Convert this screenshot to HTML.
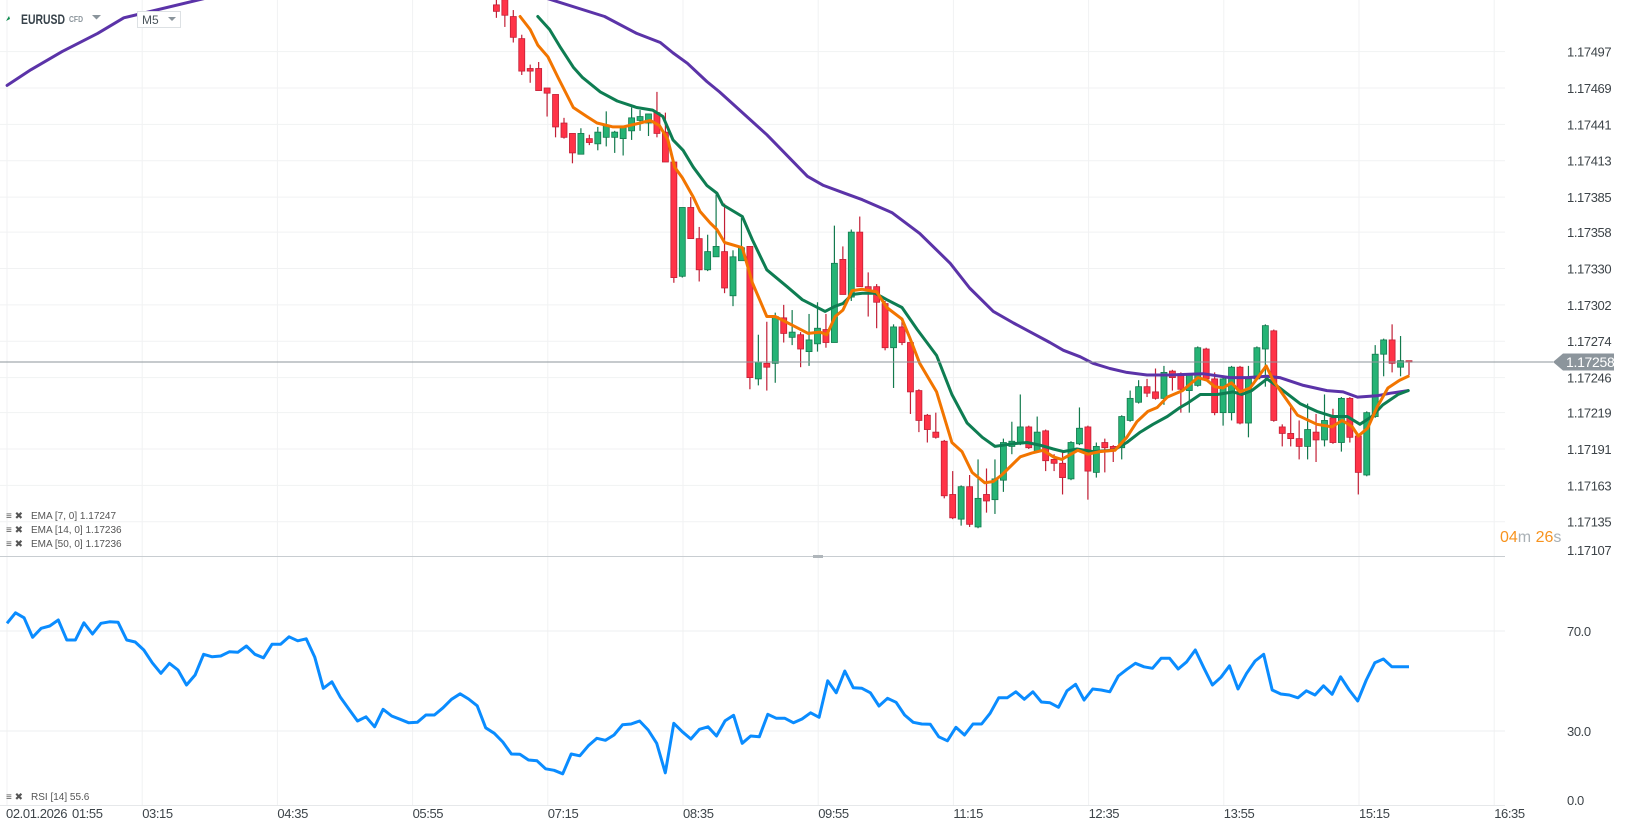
<!DOCTYPE html>
<html><head><meta charset="utf-8"><title>EURUSD M5</title>
<style>
html,body{margin:0;padding:0;background:#fff;}
svg{display:block;font-family:"Liberation Sans",sans-serif;}
.ax{font-size:13px;fill:#3d4449;letter-spacing:-0.4px;}
.lg{font-size:10px;fill:#555;}
</style></head>
<body>
<svg id="chart" width="1626" height="831" viewBox="0 0 1626 831" xmlns="http://www.w3.org/2000/svg">
<defs>
<clipPath id="mainClip"><rect x="0" y="0" width="1510" height="556"/></clipPath>
<clipPath id="rsiClip"><rect x="0" y="558" width="1510" height="246"/></clipPath>
</defs>
<g id="grid"></g>
<g id="mainPane" clip-path="url(#mainClip)"></g>
<g id="rsiPane" clip-path="url(#rsiClip)"></g>
<g id="axes"></g>

<line x1="0" y1="556.5" x2="1505" y2="556.5" stroke="#c8cdd1" stroke-width="1"/>
<rect x="813" y="555" width="10" height="3" fill="#b0b6bb"/>
<line x1="0" y1="805.5" x2="1505" y2="805.5" stroke="#e6e8ea"/>

<g>
  <path d="M6 21 L9 16 L10 19 Z" fill="#0b8a4c"/>
  <text x="21" y="24" font-size="14" font-weight="bold" fill="#37424a" textLength="44" lengthAdjust="spacingAndGlyphs">EURUSD</text>
  <text x="69" y="22" font-size="8" font-weight="bold" fill="#8a949b" textLength="14" lengthAdjust="spacingAndGlyphs">CFD</text>
  <path d="M92 15 L101 15 L96.5 19.5 Z" fill="#8a949b"/>
  <rect x="137.5" y="11.5" width="43" height="16" fill="#fff" stroke="#dde1e4"/>
  <text x="142" y="24" font-size="12" fill="#4a545b">M5</text>
  <path d="M168 17 L176 17 L172 21 Z" fill="#8a949b"/>
</g>

<g>
  <g><text class="lg" x="6" y="519">≡ ✖</text><text class="lg" x="31" y="519">EMA [7, 0] 1.17247</text></g>
  <g><text class="lg" x="6" y="533">≡ ✖</text><text class="lg" x="31" y="533">EMA [14, 0] 1.17236</text></g>
  <g><text class="lg" x="6" y="547">≡ ✖</text><text class="lg" x="31" y="547">EMA [50, 0] 1.17236</text></g>
  <g><text class="lg" x="6" y="800">≡ ✖</text><text class="lg" x="31" y="800">RSI [14] 55.6</text></g>
</g>

<g>
  <text x="1500" y="542" font-size="16"><tspan fill="#f7931e">04</tspan><tspan fill="#a9b0b5">m </tspan><tspan fill="#f7931e">26</tspan><tspan fill="#a9b0b5">s</tspan></text>
</g>

<script>
// ---- price data (candle index 0..108) ----
const opens=[1.17533,1.17537,1.17524,1.17507,1.17484,1.17484,1.17469,1.17464,1.17442,1.17434,1.17418,1.17430,1.17426,1.17431,1.17431,1.17430,1.17436,1.17444,1.17442,1.17450,1.17435,1.17412,1.17324,1.17377,1.17353,1.17329,1.17339,1.17343,1.17309,1.17336,1.17347,1.17245,1.17257,1.17257,1.17292,1.17277,1.17279,1.17266,1.17272,1.17283,1.17273,1.17337,1.17308,1.17358,1.17316,1.17316,1.17303,1.17269,1.17285,1.17273,1.17236,1.17217,1.17204,1.17197,1.17156,1.17137,1.17162,1.17131,1.17156,1.17152,1.17167,1.17193,1.17195,1.17208,1.17189,1.17205,1.17183,1.17180,1.17168,1.17195,1.17208,1.17173,1.17196,1.17193,1.17192,1.17213,1.17227,1.17239,1.17235,1.17230,1.17251,1.17249,1.17236,1.17240,1.17268,1.17245,1.17219,1.17219,1.17254,1.17211,1.17245,1.17268,1.17282,1.17208,1.17203,1.17199,1.17193,1.17204,1.17198,1.17215,1.17196,1.17230,1.17201,1.17171,1.17216,1.17264,1.17275,1.17254,1.17259];
const highs=[1.17537,1.17541,1.17529,1.17510,1.17487,1.17489,1.17469,1.17464,1.17446,1.17434,1.17438,1.17433,1.17439,1.17451,1.17436,1.17439,1.17454,1.17452,1.17449,1.17466,1.17450,1.17412,1.17377,1.17385,1.17362,1.17356,1.17387,1.17380,1.17344,1.17369,1.17347,1.17279,1.17289,1.17296,1.17302,1.17298,1.17281,1.17295,1.17304,1.17295,1.17363,1.17347,1.17360,1.17370,1.17327,1.17318,1.17305,1.17287,1.17289,1.17274,1.17237,1.17218,1.17219,1.17198,1.17174,1.17163,1.17171,1.17183,1.17176,1.17183,1.17199,1.17212,1.17233,1.17209,1.17216,1.17206,1.17187,1.17189,1.17197,1.17223,1.17209,1.17196,1.17199,1.17194,1.17217,1.17236,1.17244,1.17245,1.17253,1.17255,1.17252,1.17250,1.17249,1.17270,1.17269,1.17250,1.17246,1.17255,1.17255,1.17255,1.17270,1.17287,1.17283,1.17210,1.17223,1.17213,1.17226,1.17218,1.17233,1.17222,1.17231,1.17231,1.17202,1.17220,1.17271,1.17276,1.17287,1.17278,1.17259];
const lows=[1.17523,1.17516,1.17504,1.17479,1.17473,1.17467,1.17447,1.17431,1.17430,1.17411,1.17418,1.17425,1.17421,1.17424,1.17419,1.17417,1.17429,1.17436,1.17432,1.17431,1.17412,1.17319,1.17323,1.17353,1.17320,1.17328,1.17339,1.17311,1.17301,1.17336,1.17237,1.17240,1.17236,1.17242,1.17273,1.17271,1.17254,1.17255,1.17266,1.17269,1.17273,1.17310,1.17305,1.17316,1.17293,1.17284,1.17267,1.17238,1.17271,1.17218,1.17204,1.17196,1.17199,1.17153,1.17137,1.17132,1.17131,1.17130,1.17142,1.17141,1.17158,1.17187,1.17194,1.17191,1.17188,1.17174,1.17174,1.17156,1.17167,1.17194,1.17152,1.17169,1.17173,1.17181,1.17183,1.17212,1.17226,1.17231,1.17229,1.17225,1.17236,1.17219,1.17219,1.17239,1.17244,1.17217,1.17209,1.17213,1.17210,1.17200,1.17244,1.17239,1.17212,1.17193,1.17193,1.17183,1.17183,1.17181,1.17193,1.17195,1.17189,1.17196,1.17156,1.17170,1.17215,1.17247,1.17250,1.17247,1.17248];
const closes=[1.17528,1.17525,1.17508,1.17482,1.17482,1.17467,1.17465,1.17439,1.17431,1.17419,1.17434,1.17427,1.17435,1.17440,1.17435,1.17439,1.17446,1.17447,1.17449,1.17434,1.17412,1.17323,1.17377,1.17353,1.17329,1.17343,1.17347,1.17315,1.17339,1.17346,1.17246,1.17258,1.17254,1.17293,1.17280,1.17281,1.17268,1.17275,1.17284,1.17273,1.17334,1.17310,1.17358,1.17316,1.17313,1.17304,1.17269,1.17285,1.17273,1.17235,1.17213,1.17206,1.17200,1.17155,1.17138,1.17162,1.17133,1.17153,1.17151,1.17168,1.17196,1.17197,1.17208,1.17192,1.17204,1.17182,1.17180,1.17169,1.17196,1.17207,1.17174,1.17193,1.17192,1.17191,1.17216,1.17230,1.17239,1.17234,1.17230,1.17250,1.17246,1.17237,1.17248,1.17269,1.17245,1.17219,1.17245,1.17254,1.17211,1.17245,1.17269,1.17286,1.17213,1.17203,1.17199,1.17193,1.17206,1.17198,1.17213,1.17196,1.17230,1.17200,1.17173,1.17219,1.17264,1.17275,1.17257,1.17259,1.17258];

// ---- EMA readings (candle index, price) ----
const ema7Bars=[2.8,4.0,4.9,6.1,7.3,9.1,10.7,11.9,13.8,15.0,17.0,18.2,19.3,20.3,21.1,22.0,23.3,24.1,25.3,26.1,27.0,29.1,30.3,32.0,33.0,35.1,36.9,38.3,39.1,40.1,41.0,42.1,43.3,45.0,46.2,48.0,48.9,50.1,52.1,53.9,55.1,56.3,57.8,58.8,59.8,62.0,63.4,64.7,65.9,66.9,68.8,70.0,71.4,73.2,74.6,75.8,77.1,78.2,79.4,81.2,83.0,84.1,85.0,86.0,87.0,88.0,89.2,90.1,91.1,91.9,93.3,94.8,97.1,98.9,100.1,101.3,102.0,103.1,104.2,105.5,106.9,107.9];
const ema7Vals=[1.17524,1.17514,1.17502,1.17493,1.17477,1.17454,1.17447,1.17442,1.17439,1.17439,1.17442,1.17444,1.17440,1.17429,1.17408,1.17400,1.17385,1.17374,1.17365,1.17360,1.17350,1.17346,1.17319,1.17293,1.17293,1.17286,1.17280,1.17281,1.17279,1.17293,1.17298,1.17313,1.17314,1.17312,1.17300,1.17291,1.17277,1.17257,1.17235,1.17196,1.17189,1.17173,1.17165,1.17166,1.17171,1.17185,1.17188,1.17190,1.17185,1.17183,1.17190,1.17187,1.17189,1.17190,1.17200,1.17212,1.17220,1.17223,1.17231,1.17236,1.17246,1.17244,1.17239,1.17238,1.17242,1.17235,1.17238,1.17246,1.17255,1.17244,1.17231,1.17217,1.17210,1.17208,1.17213,1.17208,1.17201,1.17207,1.17223,1.17238,1.17244,1.17247];
const ema14Bars=[4.9,6.3,7.5,9.1,10.2,12.3,14.3,16.6,18.5,19.7,20.9,22.1,23.3,24.9,26.1,26.8,29.1,30.3,32.0,34.4,36.2,38.9,40.1,41.0,42.1,43.3,44.8,46.2,48.0,49.8,52.1,53.9,55.7,57.5,59.0,61.1,62.8,64.3,65.9,67.1,68.7,70.6,73.0,74.6,76.2,77.7,79.4,80.9,81.7,83.3,85.3,87.2,88.2,89.4,91.2,92.7,95.1,97.1,99.0,100.7,102.2,103.6,104.9,106.7,107.9];
const ema14Vals=[1.17524,1.17514,1.17501,1.17485,1.17477,1.17466,1.17459,1.17454,1.17452,1.17447,1.17429,1.17421,1.17408,1.17394,1.17388,1.17379,1.17370,1.17352,1.17329,1.17316,1.17306,1.17297,1.17301,1.17303,1.17310,1.17311,1.17311,1.17306,1.17300,1.17283,1.17263,1.17233,1.17211,1.17200,1.17193,1.17195,1.17196,1.17194,1.17191,1.17189,1.17191,1.17189,1.17190,1.17196,1.17204,1.17210,1.17216,1.17223,1.17226,1.17233,1.17233,1.17235,1.17233,1.17236,1.17245,1.17238,1.17226,1.17220,1.17216,1.17216,1.17210,1.17216,1.17225,1.17233,1.17236];
const ema50Bars=[-57.9,-55.1,-51.4,-47.2,-44.1,-30,-10,5,12.8,16.6,19.4,20.9,22.6,24.9,26.4,32.0,36.8,38.7,41.2,43.3,46.8,50.1,53.7,56.0,58.8,61.2,63.5,65.5,67.1,69.1,70.6,72.6,74.6,77.0,79.7,83.6,86.8,88.8,91.2,92.7,95.5,98.3,100.2,101.9,104.2,105.8,107.9];
const ema50Vals=[1.17471,1.17483,1.17497,1.17511,1.17523,1.17545,1.17555,1.17540,1.17524,1.17511,1.17504,1.17496,1.17488,1.17474,1.17466,1.17433,1.17401,1.17394,1.17388,1.17383,1.17373,1.17357,1.17334,1.17315,1.17297,1.17288,1.17280,1.17273,1.17267,1.17262,1.17257,1.17253,1.17250,1.17248,1.17248,1.17249,1.17246,1.17246,1.17247,1.17246,1.17240,1.17236,1.17235,1.17231,1.17232,1.17234,1.17236];

// ---- RSI (14) values, one per bar, left to right ----
const rsiVals=[73.1,77.3,75.3,67.5,71.1,72.0,74.4,66.4,66.4,73.3,68.8,73.1,73.7,73.5,66.4,65.6,62.4,57.3,53.1,57.1,54.4,48.4,52.4,60.7,59.7,60.0,61.7,61.5,64.0,60.7,59.3,64.7,64.7,67.7,66.1,66.9,59.5,47.1,49.7,43.5,38.7,34.0,35.7,31.7,38.7,36.0,34.7,33.3,33.5,36.4,36.4,39.3,42.7,44.9,42.8,40.1,31.3,29.1,25.6,20.8,20.7,18.4,18.1,14.9,14.3,12.9,20.8,20.1,24.1,27.1,26.3,28.4,32.5,32.8,34.0,30.4,25.1,13.3,33.1,29.7,26.8,30.7,
31.7,28.0,34.1,36.3,25.1,28.0,27.7,36.7,35.1,35.1,33.3,34.8,37.3,35.5,50.1,45.3,54.0,47.3,47.1,45.3,40.0,43.1,41.5,36.4,33.5,32.8,32.7,27.7,26.1,31.5,28.4,32.8,32.8,37.1,43.3,43.3,45.7,42.7,45.7,41.6,41.3,39.5,46.1,48.7,42.4,46.8,46.4,45.7,52.0,54.7,57.1,55.7,55.1,59.1,59.1,54.8,57.7,62.4,55.3,48.4,51.5,56.1,46.8,53.1,58.0,60.7,46.4,44.8,44.4,43.3,46.1,44.4,48.1,44.7,51.7,46.4,42.0,50.4,57.3,58.8,55.7,55.7,55.7];

// ---- axis labels ----
const priceTicks=["1.17497","1.17469","1.17441","1.17413","1.17385","1.17358","1.17330","1.17302","1.17274","1.17246","1.17219","1.17191","1.17163","1.17135","1.17107"];
const rsiTicks=[70,30,0];
const timeTicks=["01:55","03:15","04:35","05:55","07:15","08:35","09:55","11:15","12:35","13:55","15:15","16:35"];
const lastPrice=1.17258;

// ---- scales ----
const NS="http://www.w3.org/2000/svg";
const lastIdx=closes.length-1;
const BAR=8.45, LASTX=1409;
function xBar(i){return LASTX-(lastIdx-i)*BAR;}
function yP(p){return 362-(p-lastPrice)/0.0000077;}
function yR(v){return 806-v*2.5;}
function xR(j){return 7+j*(LASTX-7)/(rsiVals.length-1);}
function mk(tag,attrs,parent){const e=document.createElementNS(NS,tag);for(const k in attrs)e.setAttribute(k,attrs[k]);parent.appendChild(e);return e;}

const grid=document.getElementById('grid');
const main=document.getElementById('mainPane');
const rsiG=document.getElementById('rsiPane');
const axes=document.getElementById('axes');

// vertical grid + time labels
timeTicks.forEach((t,k)=>{
  const x=7+k*135.2;
  const l=mk('line',{x1:x,y1:0,x2:x,y2:805,stroke:'#f1f2f3','stroke-width':1},grid);
  
  
  const tx=mk('text',{x:k===0?72:x,y:818,class:'ax'},axes);
  tx.textContent=t;
  
  
});
const d0=mk('text',{x:6,y:818,class:'ax'},axes);
d0.textContent="02.01.2026";



// price grid + labels
priceTicks.forEach((t,k)=>{
  const y=yP(parseFloat(t));
  if(y<552){
    const l=mk('line',{x1:0,y1:y,x2:1505,y2:y,stroke:'#f1f2f3','stroke-width':1},grid);
    
    
  }
  const tx=mk('text',{x:1567,y:Math.min(y,550)+5,class:'ax'},axes);
  tx.textContent=t;
  
  
});
rsiTicks.forEach(v=>{
  const y=yR(v);
  if(v>0){
    const l=mk('line',{x1:0,y1:y,x2:1505,y2:y,stroke:'#eeeff0','stroke-width':1},grid);
    
    
  }
  const tx=mk('text',{x:1567,y:(v===0?yR(v)-1:y+5),class:'ax'},axes);
  tx.textContent=v.toFixed(1);
  
  
});

// current price line
const pl=mk('line',{x1:0,y1:yP(lastPrice),x2:1553,y2:yP(lastPrice),stroke:'#8d959b','stroke-width':1},main.parentNode);



// candles
for(let i=0;i<=lastIdx;i++){
  const up=closes[i]>opens[i];
  const x=xBar(i);
  const g=mk('g',{},main);
  
  
  const fill=up?'#25b375':'#ff3347', stroke=up?'#137a4e':'#c21f36';
  mk('line',{x1:x,y1:yP(highs[i]),x2:x,y2:yP(lows[i]),stroke:stroke,'stroke-width':1.2},g);
  const top=yP(Math.max(opens[i],closes[i])), bot=yP(Math.min(opens[i],closes[i]));
  mk('rect',{x:x-3,y:top,width:6,height:Math.max(1.5,bot-top),fill:fill,stroke:stroke,'stroke-width':0.8},g);
}

// EMA lines
function line(bars,vals,color,name){
  const d=bars.map((b,k)=>(k?'L':'M')+xBar(b).toFixed(1)+' '+yP(vals[k]).toFixed(1)).join(' ');
  const p=mk('path',{d:d,fill:'none',stroke:color,'stroke-width':3,'stroke-linejoin':'round','stroke-linecap':'round'},main);
  
  
}
line(ema50Bars,ema50Vals,'#5b33a8','ema-50-line');
line(ema14Bars,ema14Vals,'#0e7d52','ema-14-line');
line(ema7Bars,ema7Vals,'#f27500','ema-7-line');

// RSI line
const rd=rsiVals.map((v,j)=>(j?'L':'M')+xR(j).toFixed(1)+' '+yR(v).toFixed(1)).join(' ');
const rp=mk('path',{d:rd,fill:'none',stroke:'#0a8cff','stroke-width':3,'stroke-linejoin':'round'},rsiG);



// price tag
const ty=yP(lastPrice);
const tag=mk('g',{},axes);


mk('path',{d:`M1553 ${ty} L1563 ${ty-8.5} L1614 ${ty-8.5} L1614 ${ty+8.5} L1563 ${ty+8.5} Z`,fill:'#8c959c'},tag);
const tt=mk('text',{x:1566,y:ty+5,'font-size':14,fill:'#fff','letter-spacing':'-0.3'},tag);
tt.textContent=lastPrice.toFixed(5);
</script>
</svg>
</body></html>
